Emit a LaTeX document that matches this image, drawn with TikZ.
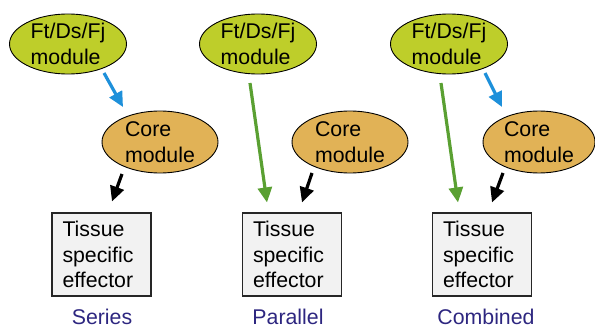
\documentclass[tikz,border=0pt]{standalone}
\usepackage{fontspec}
\setmainfont{Liberation Sans}
\usetikzlibrary{arrows.meta,calc,shapes.geometric}
\definecolor{ftgreen}{RGB}{190,206,42}
\definecolor{coreor}{RGB}{225,178,86}
\definecolor{arblue}{RGB}{30,144,218}
\definecolor{argreen}{RGB}{90,160,50}
\definecolor{boxgray}{RGB}{242,242,242}
\definecolor{lblblue}{RGB}{45,38,128}
\begin{document}
\begin{tikzpicture}[x=1pt,y=-1pt,
  every node/.style={font=\fontsize{21.3}{25.5}\selectfont},
  ftmod/.style={ellipse,draw=black,line width=0.9pt,fill=ftgreen,minimum width=117pt,minimum height=60pt,inner sep=0pt,align=left},
  coremod/.style={ellipse,draw=black,line width=0.9pt,fill=coreor,minimum width=116pt,minimum height=62pt,inner sep=0pt,align=left},
  effbox/.style={rectangle,draw=black!85,line width=1.1pt,fill=boxgray,text width=78pt,inner xsep=10.5pt,inner ysep=0pt,minimum height=83pt,align=left},
  lbl/.style={text=lblblue},
  arr/.style={line width=3.2pt,-{Triangle[length=15pt,width=14pt]}},
  blu/.style={arr,draw=arblue,fill=arblue},
  grn/.style={arr,draw=argreen,fill=argreen},
  blk/.style={arr,draw=black,fill=black}
]
\useasboundingbox (0,0) rectangle (595,329);
% Series
\node[ftmod] (g1) at (68,44) {Ft/Ds/Fj\\module};
\node[coremod] (c1) at (160,142) {Core\\module};
\node[effbox] (e1) at (101.5,254.5) {Tissue\\specific\\effector};
\node[lbl] (l1) at (102,317) {Series};
% Parallel
\node[ftmod] (g2) at (258,44) {Ft/Ds/Fj\\module};
\node[coremod] (c2) at (350,142) {Core\\module};
\node[effbox] (e2) at (292,254.5) {Tissue\\specific\\effector};
\node[lbl] (l2) at (288,317) {Parallel};
% Combined
\node[ftmod] (g3) at (449,44) {Ft/Ds/Fj\\module};
\node[coremod,minimum width=112pt] (c3) at (539,142) {Core\\module};
\node[effbox] (e3) at (482,254.5) {Tissue\\specific\\effector};
\node[lbl] (l3) at (486,317) {Combined};
% arrow end points
\coordinate (b1s) at ($(g1.center)+(36,29)$);
\coordinate (b1e) at ($(c1.center)+(-37,-35)$);
\coordinate (k1s) at ($(c1.center)+(-38,32)$);
\coordinate (k1e) at ($(e1.north)+(10.5,-11)$);
\coordinate (v2s) at ($(g2.center)+(-8,39)$);
\coordinate (v2e) at ($(e2.north)+(-25,-10)$);
\coordinate (k2s) at ($(c2.center)+(-38,31)$);
\coordinate (k2e) at ($(e2.north)+(10,-10)$);
\coordinate (v3s) at ($(g3.center)+(-8,39)$);
\coordinate (v3e) at ($(e3.north)+(-24,-10)$);
\coordinate (b3s) at ($(g3.center)+(36,29)$);
\coordinate (b3e) at ($(c3.center)+(-37,-35)$);
\coordinate (k3s) at ($(c3.center)+(-36,31)$);
\coordinate (k3e) at ($(e3.north)+(10,-10)$);
\draw[blu] (b1s) -- (b1e);
\draw[blk] (k1s) -- (k1e);
\draw[grn] (v2s) -- (v2e);
\draw[blk] (k2s) -- (k2e);
\draw[grn] (v3s) -- (v3e);
\draw[blu] (b3s) -- (b3e);
\draw[blk] (k3s) -- (k3e);
\end{tikzpicture}
\end{document}
